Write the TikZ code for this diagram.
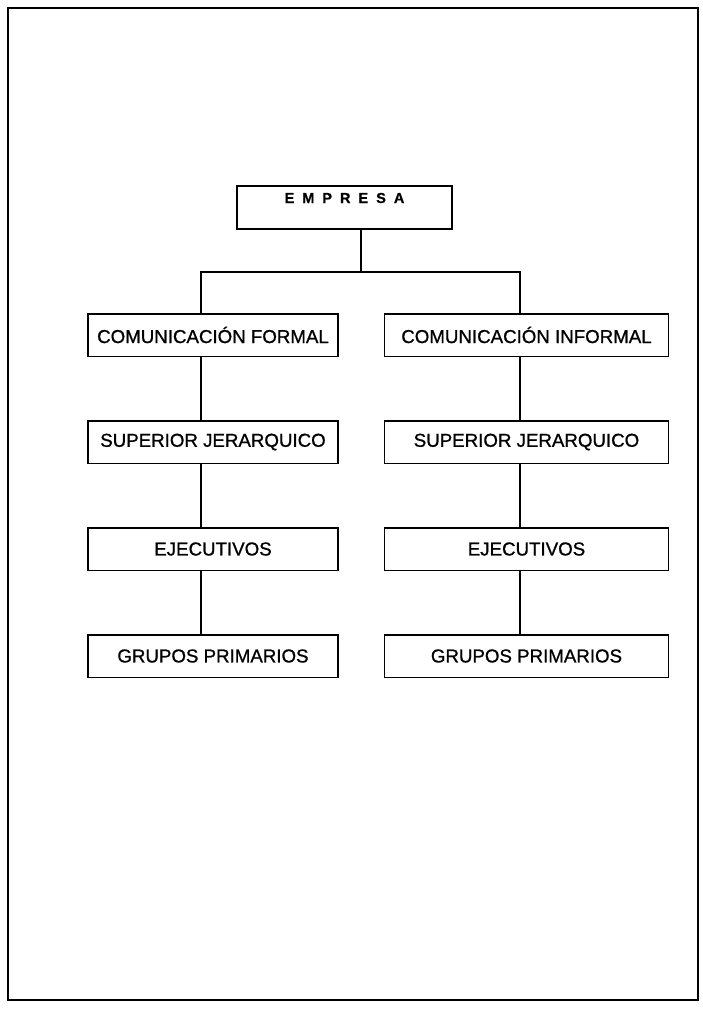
\documentclass[tikz,border=0pt]{standalone}
\usepackage{fontspec}
\setmainfont{Liberation Sans}
\newfontfamily\boxfont{Liberation Sans}[FakeBold=0.9]
\newfontfamily\headfont{Liberation Sans Bold}[FakeBold=0.6]
\usetikzlibrary{positioning}
\newcommand{\widespaces}{\spaceskip=8pt\relax}

\begin{document}
\begin{tikzpicture}[x=1pt, y=-1pt,
    box/.style={rectangle, draw=black, line width=1.5pt, minimum height=42.5pt, inner sep=2pt,
                text centered, font=\boxfont\fontsize{18.7}{20}\selectfont},
    leftbox/.style={box, minimum width=250pt},
    rightbox/.style={box, minimum width=284pt},
    topbox/.style={box, minimum width=215pt, minimum height=0pt, inner ysep=3pt,
                text height=14pt, text depth=23pt, font=\headfont\fontsize{14.5}{16}\selectfont},
    link/.style={draw=black, line width=1.2pt},
    node distance=63pt
]
    \useasboundingbox (0,0) rectangle (703,1012);
    \draw[line width=1.2pt] (8,8) rectangle (698,1000);

    \node[topbox] (empresa) at (344.5,207.5) {\widespaces E M P R E S A};

    \coordinate (split) at (361,272);
    \coordinate (lbus) at (201,272);
    \coordinate (rbus) at (520,272);

    % left column
    \node[leftbox] (formal) at (213,335) {COMUNICACIÓN FORMAL};
    \node[leftbox, below=of formal] (superiorL) {SUPERIOR JERARQUICO};
    \node[leftbox, below=of superiorL] (ejecL) {EJECUTIVOS};
    \node[leftbox, below=of ejecL] (gruposL) {GRUPOS PRIMARIOS};

    % right column
    \node[rightbox, right=45pt of formal] (informal) {COMUNICACIÓN INFORMAL};
    \node[rightbox, below=of informal] (superiorR) {SUPERIOR JERARQUICO};
    \node[rightbox, below=of superiorR] (ejecR) {EJECUTIVOS};
    \node[rightbox, below=of ejecR] (gruposR) {GRUPOS PRIMARIOS};

    \draw[link] (split |- empresa.south) -- (split);
    \draw[link] (lbus |- formal.north) -- (lbus) -- (rbus) -- (rbus |- informal.north);

    \foreach \a/\b in {formal/superiorL, superiorL/ejecL, ejecL/gruposL}
        \draw[link] (lbus |- \a.south) -- (lbus |- \b.north);
    \foreach \a/\b in {informal/superiorR, superiorR/ejecR, ejecR/gruposR}
        \draw[link] (rbus |- \a.south) -- (rbus |- \b.north);
\end{tikzpicture}
\end{document}
